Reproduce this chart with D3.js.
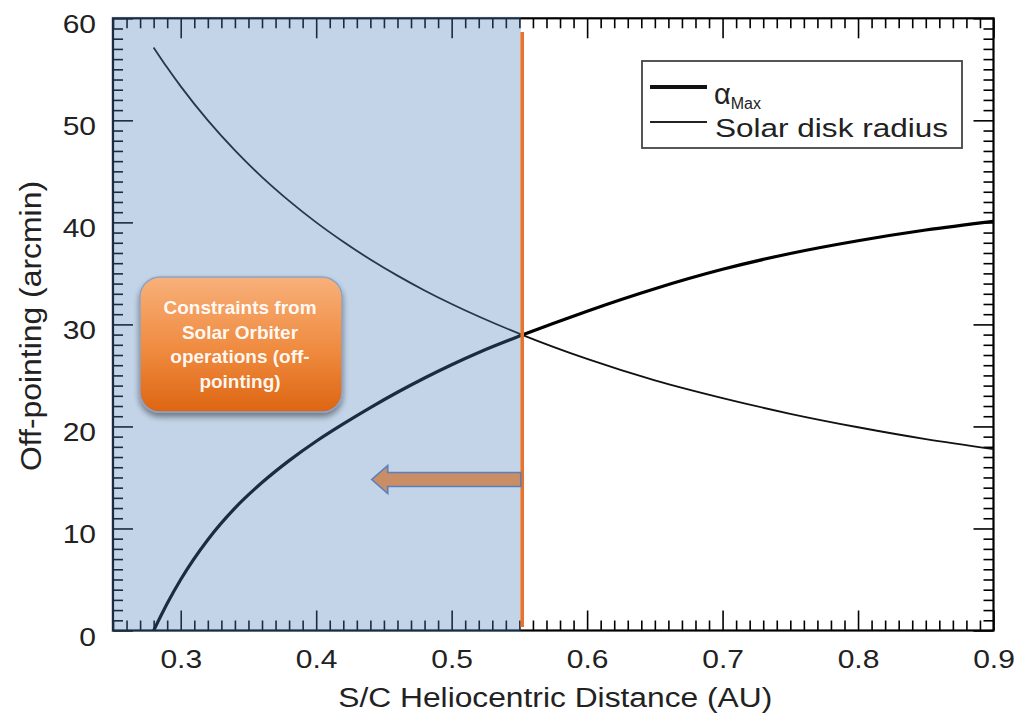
<!DOCTYPE html>
<html lang="en">
<head>
<meta charset="utf-8" />
<title>Off-pointing vs heliocentric distance</title>
<script src="https://d3js.org/d3.v7.min.js"></script>
<style>
  body { margin: 0; background: #fff; }
  svg text { font-family: "Liberation Sans", Arial, Helvetica, sans-serif; }
</style>
</head>
<body>
<div id="chart"></div>
<script>
// data
var distanceAU = [0.28, 0.29, 0.30, 0.32, 0.34, 0.36, 0.38, 0.40, 0.42, 0.44, 0.46, 0.48, 0.50, 0.52, 0.552, 0.60, 0.65, 0.70, 0.75, 0.80, 0.85, 0.90];
var alphaMax = [0.0, 2.65, 5.0, 8.9, 12.0, 14.5, 16.65, 18.55, 20.25, 21.85, 23.35, 24.75, 26.05, 27.25, 28.95, 31.3, 33.5, 35.4, 36.95, 38.2, 39.25, 40.1];
var solarDiskRadius = [57.14, 55.17, 53.33, 50.0, 47.06, 44.44, 42.11, 40.0, 38.10, 36.36, 34.78, 33.33, 32.0, 30.77, 28.98, 26.62, 24.52, 22.78, 21.24, 19.92, 18.76, 17.78];

var xTicks = [0.3, 0.4, 0.5, 0.6, 0.7, 0.8, 0.9];
var yTicks = [0, 10, 20, 30, 40, 50, 60];
var xMinor = d3.range(25, 91).filter(function(i) { return i % 10 !== 0; }).map(function(i) { return i / 100; });
var yMinor = d3.range(0, 61).filter(function(i) { return i % 10 !== 0; });

var limitAU = 0.551;      // operations constraint
var arrowTipAU = 0.441;
var arrowLevel = 14.8;

var W = 1019, H = 715;
var svg = d3.select("#chart").append("svg")
  .attr("width", W)
  .attr("height", H);

var x = d3.scaleLinear().domain([0.25, 0.9]).range([113, 993.5]);
var y = d3.scaleLinear().domain([0, 60]).range([630.5, 18.3]);

var defs = svg.append("defs");
var grad = defs.append("linearGradient").attr("id", "boxGrad")
  .attr("x1", 0).attr("y1", 0).attr("x2", 0).attr("y2", 1);
grad.append("stop").attr("offset", "0%").attr("stop-color", "#f8b07a");
grad.append("stop").attr("offset", "55%").attr("stop-color", "#ef8a3e");
grad.append("stop").attr("offset", "100%").attr("stop-color", "#dd6512");
var shadow = defs.append("filter").attr("id", "shadow")
  .attr("x", "-20%").attr("y", "-20%").attr("width", "140%").attr("height", "150%");
shadow.append("feGaussianBlur").attr("in", "SourceAlpha").attr("stdDeviation", 3);
shadow.append("feOffset").attr("dx", 0).attr("dy", 4).attr("result", "b");
shadow.append("feComponentTransfer").append("feFuncA").attr("type", "linear").attr("slope", 0.45);
var merge = shadow.append("feMerge");
merge.append("feMergeNode");
merge.append("feMergeNode").attr("in", "SourceGraphic");

// ticks on all four sides, pointing inward
function ticks(axis, vals, size, tx, ty) {
  var g = svg.append("g")
    .attr("transform", "translate(" + tx + "," + ty + ")")
    .call(axis.tickValues(vals).tickSize(-size).tickFormat(""));
  g.select(".domain").remove();
  g.selectAll("line").attr("stroke", "#000").attr("stroke-width", 1.6);
  return g;
}
ticks(d3.axisBottom(x), xMinor, 10, 0, y(0));
ticks(d3.axisBottom(x), xTicks, 20, 0, y(0));
ticks(d3.axisTop(x), xMinor, 10, 0, y(60));
ticks(d3.axisTop(x), xTicks, 20, 0, y(60));
ticks(d3.axisLeft(y), yMinor, 10, x(0.25), 0);
ticks(d3.axisLeft(y), yTicks, 20, x(0.25), 0);
ticks(d3.axisRight(y), yMinor, 10, x(0.9), 0);
ticks(d3.axisRight(y), yTicks, 20, x(0.9), 0);

// frame
svg.append("rect")
  .attr("x", x(0.25)).attr("y", y(60))
  .attr("width", x(0.9) - x(0.25)).attr("height", y(0) - y(60))
  .attr("fill", "none").attr("stroke", "#000").attr("stroke-width", 2.2);

// tick labels
var xLab = svg.append("g")
  .attr("transform", "translate(0," + y(0) + ")")
  .call(d3.axisBottom(x).tickValues(xTicks).tickSize(0).tickPadding(20).tickFormat(d3.format(".1f")));
xLab.select(".domain").remove();
xLab.selectAll("text")
  .attr("font-size", 25).attr("fill", "#222")
  .attr("font-family", "Liberation Sans, Arial, sans-serif")
  .attr("transform", "scale(1.2,1)");

var yLab = svg.append("g")
  .attr("transform", "translate(" + x(0.25) + ",0)")
  .call(d3.axisLeft(y).tickValues(yTicks).tickSize(0).tickPadding(0).tickFormat(d3.format("d")));
yLab.select(".domain").remove();
yLab.selectAll("text")
  .attr("font-size", 25).attr("fill", "#222")
  .attr("font-family", "Liberation Sans, Arial, sans-serif")
  .attr("x", 0).attr("dy", "0.58em")
  .attr("transform", "translate(-17,0) scale(1.2,1)");

// axis titles
svg.append("text")
  .attr("x", (x(0.25) + x(0.9)) / 2 + 2).attr("y", 707)
  .attr("text-anchor", "middle")
  .attr("font-size", 27).attr("fill", "#222")
  .attr("textLength", 434).attr("lengthAdjust", "spacingAndGlyphs")
  .text("S/C Heliocentric Distance (AU)");

svg.append("text")
  .attr("transform", "translate(41,326) rotate(-90)")
  .attr("text-anchor", "middle")
  .attr("font-size", 30).attr("fill", "#222")
  .attr("textLength", 290).attr("lengthAdjust", "spacingAndGlyphs")
  .text("Off-pointing (arcmin)");

// curves
var line = function(vals) {
  return d3.line()
    .x(function(d, i) { return x(distanceAU[i]); })
    .y(function(d) { return y(d); })
    .curve(d3.curveMonotoneX)(vals);
};
svg.append("path")
  .attr("d", line(solarDiskRadius))
  .attr("fill", "none").attr("stroke", "#111").attr("stroke-width", 1.8);
svg.append("path")
  .attr("d", line(alphaMax))
  .attr("fill", "none").attr("stroke", "#000").attr("stroke-width", 3.2);

// shaded region (semi-transparent so what lies under it turns navy)
svg.append("rect")
  .attr("x", x(0.25) - 1.5).attr("y", y(60) - 1.5)
  .attr("width", x(limitAU) - x(0.25) + 1.5).attr("height", y(0) - y(60) + 3)
  .attr("fill", "rgb(79,129,189)").attr("fill-opacity", 0.34);

// orange limit line
svg.append("line")
  .attr("x1", x(limitAU) + 1.5).attr("x2", x(limitAU) + 1.5)
  .attr("y1", 32).attr("y2", 627)
  .attr("stroke", "#e5752c").attr("stroke-width", 3.6);

// arrow pointing to smaller distances
var tipX = x(arrowTipAU), tailX = x(limitAU), cy = y(arrowLevel);
var arrowPts = [
  [tailX, cy - 7], [tipX + 16, cy - 7], [tipX + 16, cy - 14], [tipX, cy],
  [tipX + 16, cy + 14], [tipX + 16, cy + 7], [tailX, cy + 7]
];
svg.append("polygon")
  .attr("points", arrowPts.map(function(p) { return p.join(","); }).join(" "))
  .attr("fill", "#c98e66").attr("stroke", "#5a7fbd").attr("stroke-width", 1.6);

// annotation box
var boxX = 140, boxY = 277, boxW = 202, boxH = 135;
svg.append("rect")
  .attr("x", boxX).attr("y", boxY).attr("width", boxW).attr("height", boxH)
  .attr("rx", 20).attr("ry", 20)
  .attr("fill", "url(#boxGrad)")
  .attr("stroke", "#8aa2c8").attr("stroke-width", 1.4)
  .attr("filter", "url(#shadow)");
var boxLines = ["Constraints from", "Solar Orbiter", "operations (off-", "pointing)"];
svg.append("g").selectAll("text")
  .data(boxLines)
  .enter()
  .append("text")
  .attr("x", boxX + boxW / 2 - 1)
  .attr("y", function(d, i) { return 314 + i * 24.6; })
  .attr("text-anchor", "middle")
  .attr("font-family", "Lato, 'Open Sans', sans-serif")
  .attr("font-weight", 700)
  .attr("font-size", 19)
  .attr("fill", "#fff")
  .attr("fill-opacity", 0.95)
  .text(function(d) { return d; });

// legend
var lg = svg.append("g");
lg.append("rect")
  .attr("x", 642).attr("y", 61).attr("width", 320).attr("height", 87)
  .attr("fill", "#fff").attr("stroke", "#444").attr("stroke-width", 1.8);
lg.append("line").attr("x1", 650).attr("x2", 707).attr("y1", 87).attr("y2", 87)
  .attr("stroke", "#111").attr("stroke-width", 4);
lg.append("line").attr("x1", 650).attr("x2", 707).attr("y1", 122).attr("y2", 122)
  .attr("stroke", "#222").attr("stroke-width", 1.8);
var aText = lg.append("text").attr("x", 714).attr("y", 104)
  .attr("font-size", 29).attr("fill", "#222");
aText.append("tspan").text("α");
aText.append("tspan").attr("font-size", 16).attr("dy", 5).text("Max");
lg.append("text").attr("x", 715).attr("y", 137)
  .attr("font-size", 26).attr("fill", "#222")
  .attr("textLength", 233).attr("lengthAdjust", "spacingAndGlyphs")
  .text("Solar disk radius");
</script>
</body>
</html>
